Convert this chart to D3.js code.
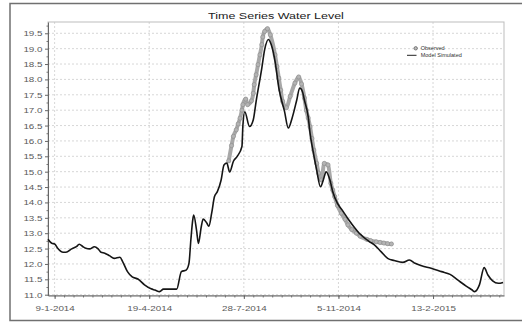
<!DOCTYPE html>
<html>
<head>
<meta charset="utf-8">
<script src="https://d3js.org/d3.v7.min.js"></script>
<style>
  body { margin: 0; background: #fff; }
  svg { display: block; font-family: Arial, "Liberation Sans", sans-serif; }
</style>
</head>
<body>
<svg></svg>
<script>
// Set variables

let simDates = ['2014-01-02','2014-01-06','2014-01-09','2014-01-12','2014-01-18','2014-01-21','2014-01-27','2014-02-01','2014-02-04','2014-02-08',
  '2014-02-11','2014-02-15','2014-02-20','2014-02-24','2014-02-27','2014-03-03','2014-03-08','2014-03-13','2014-03-19','2014-03-22',
  '2014-03-27','2014-04-01','2014-04-07','2014-04-14','2014-04-21','2014-04-25','2014-04-30','2014-05-04','2014-05-18','2014-05-23',
  '2014-05-28','2014-05-31','2014-06-02','2014-06-04','2014-06-05','2014-06-08','2014-06-10','2014-06-13','2014-06-15','2014-06-19',
  '2014-06-21','2014-06-24','2014-06-27','2014-06-30','2014-07-04','2014-07-07','2014-07-10','2014-07-13','2014-07-17','2014-07-21',
  '2014-07-26','2014-07-27','2014-07-29','2014-08-03','2014-08-07','2014-08-10','2014-08-16','2014-08-19','2014-08-23','2014-08-26',
  '2014-08-30','2014-09-03','2014-09-09','2014-09-13','2014-09-17','2014-09-22','2014-09-25','2014-09-28','2014-09-30','2014-10-04',
  '2014-10-06','2014-10-09','2014-10-13','2014-10-17','2014-10-20','2014-10-23','2014-10-27','2014-10-30','2014-11-04','2014-11-09',
  '2014-11-16','2014-11-27','2014-12-08','2014-12-13','2014-12-20','2014-12-27','2015-01-03','2015-01-12','2015-01-19','2015-01-25',
  '2015-02-01','2015-02-11','2015-02-22','2015-03-03','2015-03-11','2015-03-20','2015-03-26','2015-03-29','2015-04-03','2015-04-08',
  '2015-04-12','2015-04-17','2015-04-23','2015-04-28']
let simLevels = [12.80,12.67,12.65,12.52,12.38,12.38,12.49,12.56,12.64,12.56,
  12.51,12.49,12.56,12.49,12.38,12.35,12.27,12.18,12.22,12.07,
  11.75,11.58,11.51,11.32,11.19,11.15,11.10,11.18,11.18,11.75,
  11.80,12.02,12.78,13.43,13.59,13.10,12.67,13.21,13.46,13.32,
  13.23,13.65,14.19,14.35,14.73,15.22,15.28,14.99,15.34,15.50,
  15.82,16.50,16.95,16.47,16.69,17.29,18.37,18.97,19.30,19.13,
  18.59,17.72,16.96,16.42,16.74,17.34,17.72,17.60,17.33,16.79,
  16.25,15.70,15.05,14.51,14.73,15.00,14.73,14.35,13.97,13.75,
  13.43,13.00,12.72,12.62,12.40,12.18,12.11,12.05,12.13,12.02,
  11.94,11.86,11.75,11.66,11.48,11.28,11.16,11.10,11.32,11.88,
  11.64,11.45,11.37,11.40]

let obsDates = ['2014-07-12','2014-07-15','2014-07-17','2014-07-20','2014-07-22','2014-07-24','2014-07-26','2014-07-27','2014-07-30','2014-08-01',
  '2014-08-05','2014-08-07','2014-08-08','2014-08-10','2014-08-12','2014-08-14','2014-08-16','2014-08-17','2014-08-19','2014-08-22',
  '2014-08-25','2014-08-30','2014-09-01','2014-09-03','2014-09-05','2014-09-07','2014-09-11','2014-09-15','2014-09-20','2014-09-24',
  '2014-09-27','2014-09-30','2014-10-02','2014-10-04','2014-10-06','2014-10-08','2014-10-10','2014-10-13','2014-10-15','2014-10-18',
  '2014-10-21','2014-10-25','2014-10-28','2014-10-30','2014-11-01','2014-11-04','2014-11-08','2014-11-12','2014-11-15','2014-11-19',
  '2014-11-24','2014-11-28','2014-12-05','2014-12-09','2014-12-15','2014-12-19','2014-12-23','2014-12-27','2014-12-31']
let obsLevels = [15.35,15.85,16.15,16.36,16.55,16.74,17.00,17.18,17.36,17.18,
  17.30,17.55,17.83,18.15,18.48,18.80,19.13,19.38,19.56,19.65,
  19.45,18.80,18.42,18.04,17.65,17.29,17.08,17.45,17.88,18.08,
  17.85,17.40,17.00,16.75,16.46,16.08,15.70,15.27,14.95,14.73,
  15.27,15.22,14.62,14.40,14.19,13.90,13.65,13.45,13.27,13.12,
  13.00,12.90,12.80,12.76,12.72,12.70,12.68,12.66,12.65]

let xTickDates = ['2014-01-09','2014-04-19','2014-07-28','2014-11-05','2015-02-13']
let yTicks = [11.0,11.5,12.0,12.5,13.0,13.5,14.0,14.5,15.0,15.5,16.0,16.5,17.0,17.5,18.0,18.5,19.0,19.5]
let xDomain = ['2014-01-02','2015-04-29']
let yDomain = [10.974, 19.867]

let title = 'Time Series Water Level'
let legendNames = ['Observed', 'Model Simulated']

let width = 522
let height = 322
let plotLeft = 48
let plotRight = 504
let plotTop = 22
let plotBottom = 295.5
let stretch = 1.33

let parseDate = d3.timeParse('%Y-%m-%d')
let formatDate = d3.timeFormat('%-d-%-m-%Y')

let simValues = simDates.map((d, i) => ({ date: parseDate(d), level: simLevels[i] }))
let obsValues = obsDates.map((d, i) => ({ date: parseDate(d), level: obsLevels[i] }))

let svg = d3.select('svg').attr('width', width).attr('height', height)

let xScale = d3.scaleTime().domain(xDomain.map(parseDate)).range([plotLeft, plotRight])
let yScale = d3.scaleLinear().domain(yDomain).range([plotBottom, plotTop])

// Outer frame

svg.append('rect')
  .attr('x', 10).attr('y', 3.5)
  .attr('width', 520).attr('height', 317)
  .attr('fill', 'none').attr('stroke', '#707070').attr('stroke-width', 1.5)

// Title

svg.append('text')
  .attr('transform', 'translate(' + ((plotLeft + plotRight) / 2) + ',18.5) scale(' + stretch + ',1)')
  .attr('text-anchor', 'middle')
  .attr('font-size', 9.4)
  .attr('fill', '#222')
  .text(title)

// Grid lines

let xTicks = xTickDates.map(parseDate)

svg.append('g').selectAll('line')
  .data(yTicks)
  .enter().append('line')
  .attr('x1', plotLeft).attr('x2', plotRight)
  .attr('y1', d => yScale(d)).attr('y2', d => yScale(d))
  .attr('stroke', '#cdcdcd').attr('stroke-width', 0.8).attr('stroke-dasharray', '2,2')

svg.append('g').selectAll('line')
  .data(xTicks)
  .enter().append('line')
  .attr('x1', d => xScale(d)).attr('x2', d => xScale(d))
  .attr('y1', plotTop).attr('y2', plotBottom)
  .attr('stroke', '#cdcdcd').attr('stroke-width', 0.8).attr('stroke-dasharray', '2,2')

// Plot border

svg.append('rect')
  .attr('x', plotLeft).attr('y', plotTop)
  .attr('width', plotRight - plotLeft).attr('height', plotBottom - plotTop)
  .attr('fill', 'none').attr('stroke', '#bdbdbd').attr('stroke-width', 1)

// Axes

let minorY = yTicks.map(d => d + 0.25).filter(d => d < yDomain[1])
let xStart = parseDate(xDomain[0])
let xEnd = parseDate(xDomain[1])
let minorX = d3.range(-1, 48).map(k => d3.timeDay.offset(xTicks[0], k * 10)).filter(d => d >= xStart && d <= xEnd)

svg.append('g')
  .attr('transform', 'translate(' + plotLeft + ',0)')
  .call(d3.axisLeft(yScale).tickValues(minorY).tickSize(1.5).tickFormat(''))
  .call(g => g.select('.domain').remove())
  .selectAll('line').attr('stroke', '#777')

svg.append('g')
  .attr('transform', 'translate(0,' + plotBottom + ')')
  .call(d3.axisBottom(xScale).tickValues(minorX).tickSize(2).tickFormat(''))
  .call(g => g.select('.domain').remove())
  .selectAll('line').attr('stroke', '#777')

let yAxis = svg.append('g')
  .attr('transform', 'translate(' + plotLeft + ',0)')
  .call(d3.axisLeft(yScale).tickValues(yTicks).tickSize(3).tickSizeOuter(0).tickFormat(d3.format('.1f')))

yAxis.select('.domain').attr('stroke', '#666')
yAxis.selectAll('line').attr('stroke', '#666')
yAxis.selectAll('text')
  .attr('x', -5.5 / stretch)
  .attr('dy', '0.34em')
  .attr('transform', 'scale(' + stretch + ',1)')
  .attr('font-size', 7.4)
  .attr('font-family', 'Arial, "Liberation Sans", sans-serif')
  .attr('fill', '#5a5a5a')

let xAxis = svg.append('g')
  .attr('transform', 'translate(0,' + plotBottom + ')')
  .call(d3.axisBottom(xScale).tickValues(xTicks).tickSize(3.5).tickSizeOuter(0).tickFormat(formatDate))

xAxis.select('.domain').attr('stroke', '#666')
xAxis.selectAll('line').attr('stroke', '#666')
xAxis.selectAll('text')
  .attr('y', 15.5)
  .attr('dy', 0)
  .attr('transform', 'scale(' + stretch + ',1)')
  .attr('font-size', 7.4)
  .attr('font-family', 'Arial, "Liberation Sans", sans-serif')
  .attr('fill', '#5a5a5a')

// Observed points (band of overlapping markers)

let obsLine = d3.line()
  .x(d => xScale(d.date))
  .y(d => yScale(d.level))
  .curve(d3.curveMonotoneX)

svg.append('path')
  .datum(obsValues)
  .attr('d', obsLine)
  .attr('fill', 'none')
  .attr('stroke', '#a8a8a8')
  .attr('stroke-width', 4)
  .attr('stroke-linejoin', 'round')
  .attr('stroke-linecap', 'round')

svg.append('g').selectAll('circle')
  .data(obsValues)
  .enter().append('circle')
  .attr('cx', d => xScale(d.date))
  .attr('cy', d => yScale(d.level))
  .attr('r', 2.1)
  .attr('fill', '#b4b4b4')
  .attr('stroke', '#8c8c8c')
  .attr('stroke-width', 0.6)

// Simulated line

let line = d3.line()
  .x(d => xScale(d.date))
  .y(d => yScale(d.level))
  .curve(d3.curveMonotoneX)

svg.append('path')
  .datum(simValues)
  .attr('d', line)
  .attr('fill', 'none')
  .attr('stroke', '#151515')
  .attr('stroke-width', 1.6)
  .attr('stroke-linejoin', 'round')

// Legend

let legend = svg.append('g').attr('transform', 'translate(407,48.3)')

legend.append('circle')
  .attr('cx', 8.7).attr('cy', 0).attr('r', 1.7)
  .attr('fill', '#bcbcbc').attr('stroke', '#555').attr('stroke-width', 0.7)

legend.append('line')
  .attr('x1', 0).attr('x2', 9.5)
  .attr('y1', 7).attr('y2', 7)
  .attr('stroke', '#222').attr('stroke-width', 1)

legend.selectAll('text')
  .data(legendNames)
  .enter().append('text')
  .attr('transform', (d, i) => 'translate(13.7,' + (i * 7 + 1.6) + ') scale(1.2,1)')
  .attr('font-size', 4.6)
  .attr('fill', '#333')
  .text(d => d)
</script>
</body>
</html>
